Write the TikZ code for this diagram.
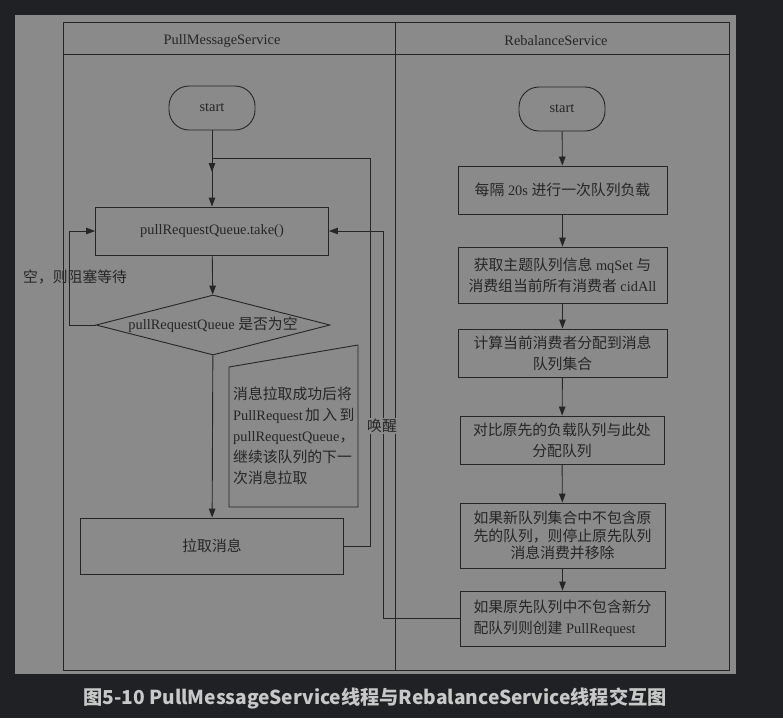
\documentclass[tikz,border=0pt]{standalone}
\usepackage{fontspec}
\setmainfont{Liberation Serif}
\newfontfamily\cjk[Scale=1.03]{Noto Sans CJK SC}
\newfontfamily\capfont{Noto Sans CJK SC}
\newcommand{\zh}[1]{{\cjk #1}}
\usetikzlibrary{positioning,shapes.geometric,arrows.meta}
\definecolor{bgdark}{RGB}{32,33,36}
\definecolor{panel}{RGB}{138,138,138}
\definecolor{ink}{RGB}{38,38,38}
\definecolor{captxt}{RGB}{200,200,200}

\begin{document}
\begin{tikzpicture}[x=1pt,y=-1pt,
  every node/.style={text=ink, font=\fontsize{14.4}{21}\selectfont},
  box/.style={draw=ink, line width=0.9pt, rectangle, align=center, inner sep=0pt},
  term/.style={box, rounded corners=20pt, minimum width=86pt, minimum height=44pt},
  decide/.style={draw=ink, line width=0.9pt, diamond, aspect=3.9, inner sep=0pt, minimum width=234pt, minimum height=60pt},
  flow/.style={draw=ink, line width=0.9pt, -{Triangle[length=9pt,width=6.5pt]}},
  lane/.style={draw=ink, line width=0.9pt}]

\fill[bgdark] (0,0) rectangle (783,718);
\fill[panel] (15,15) rectangle (736,674);

% lanes
\draw[lane] (63,22) rectangle (729,670);
\draw[lane] (63,54) -- (729,54);
\draw[lane] (395,22) -- (395,670);
\node (lanel) at (222,41) {PullMessageService};
\node (laner) at (556,41) {RebalanceService};

% PullMessageService
\node[term] (lstart) at (212,108) {start};
\node[box, minimum width=233pt, minimum height=48pt] (take) at (212,231) {pullRequestQueue.take()};
\node[decide] (isempty) at (213,325) {pullRequestQueue \zh{是否为空}};
\node[box, minimum width=263pt, minimum height=56pt] (pull) at (212,546) {\zh{拉取消息}};

\draw[lane] (229,367) -- (358,345) -- (358,507) -- (229,507) -- cycle;
\node[anchor=west, align=left, inner sep=0pt] (note) at (233,436)
  {\zh{消息拉取成功后将}\\
   \makebox[121pt][s]{PullRequest \zh{加} \zh{入} \zh{到}}\\
   pullRequestQueue\zh{，}\\
   \zh{继续该队列的下一}\\
   \zh{次消息拉取}};

\coordinate (waitcorner) at (69,325);
\coordinate (pullup) at (370,158);
\coordinate (loopin) at (212,172);
\coordinate (wakeup) at (383,231);

\draw[flow] (lstart) -- (take);
\draw[flow] (take) -- (isempty);
\draw[flow] (isempty) -- (pull);
\draw[flow] (isempty.west) -- (waitcorner) |- (take.west);
\draw[flow] (pull.east) -| (pullup) -| (loopin);
\node[anchor=west, inner sep=0pt] (waitlbl) at (23,277) {\zh{空，则阻塞等待}};

% RebalanceService
\node[term] (rstart) at (562,109) {start};
\node[box, minimum width=209pt, minimum height=48pt] (b1) at (562.5,190) {\zh{每隔} 20s \zh{进行一次队列负载}};
\node[box, minimum width=209pt, minimum height=56pt] (b2) at (562.5,275) {\zh{获取主题队列信息} mqSet \zh{与}\\\zh{消费组当前所有消费者} cidAll};
\node[box, minimum width=209pt, minimum height=48pt] (b3) at (562.5,353) {\zh{计算当前消费者分配到消息}\\\zh{队列集合}};
\node[box, minimum width=204pt, minimum height=48pt] (b4) at (562,440) {\zh{对比原先的负载队列与此处}\\\zh{分配队列}};
\node[box, minimum width=205pt, minimum height=65pt, font=\fontsize{14.4}{17.5}\selectfont] (b5) at (562.5,535.5) {\zh{如果新队列集合中不包含原}\\\zh{先的队列，则停止原先队列}\\\zh{消息消费并移除}};
\node[box, minimum width=205pt, minimum height=55pt, align=left] (b6) at (562.5,618.5) {\zh{如果原先队列中不包含新分}\\\zh{配队列则创建} PullRequest};

\foreach \a/\b in {rstart/b1,b1/b2,b2/b3,b3/b4,b4/b5,b5/b6}
  \draw[flow] (\a) -- (\b);

\draw[flow] (b6.west) -| (wakeup) -- (take.east);
\node[fill=panel, inner sep=1pt] (wakelbl) at (382,426) {\zh{唤醒}};

\node[text=captxt, font=\capfont\bfseries\fontsize{19.2}{21}\selectfont] (caption) at (375,698)
  {图5-10 PullMessageService线程与RebalanceService线程交互图};
\end{tikzpicture}
\end{document}
